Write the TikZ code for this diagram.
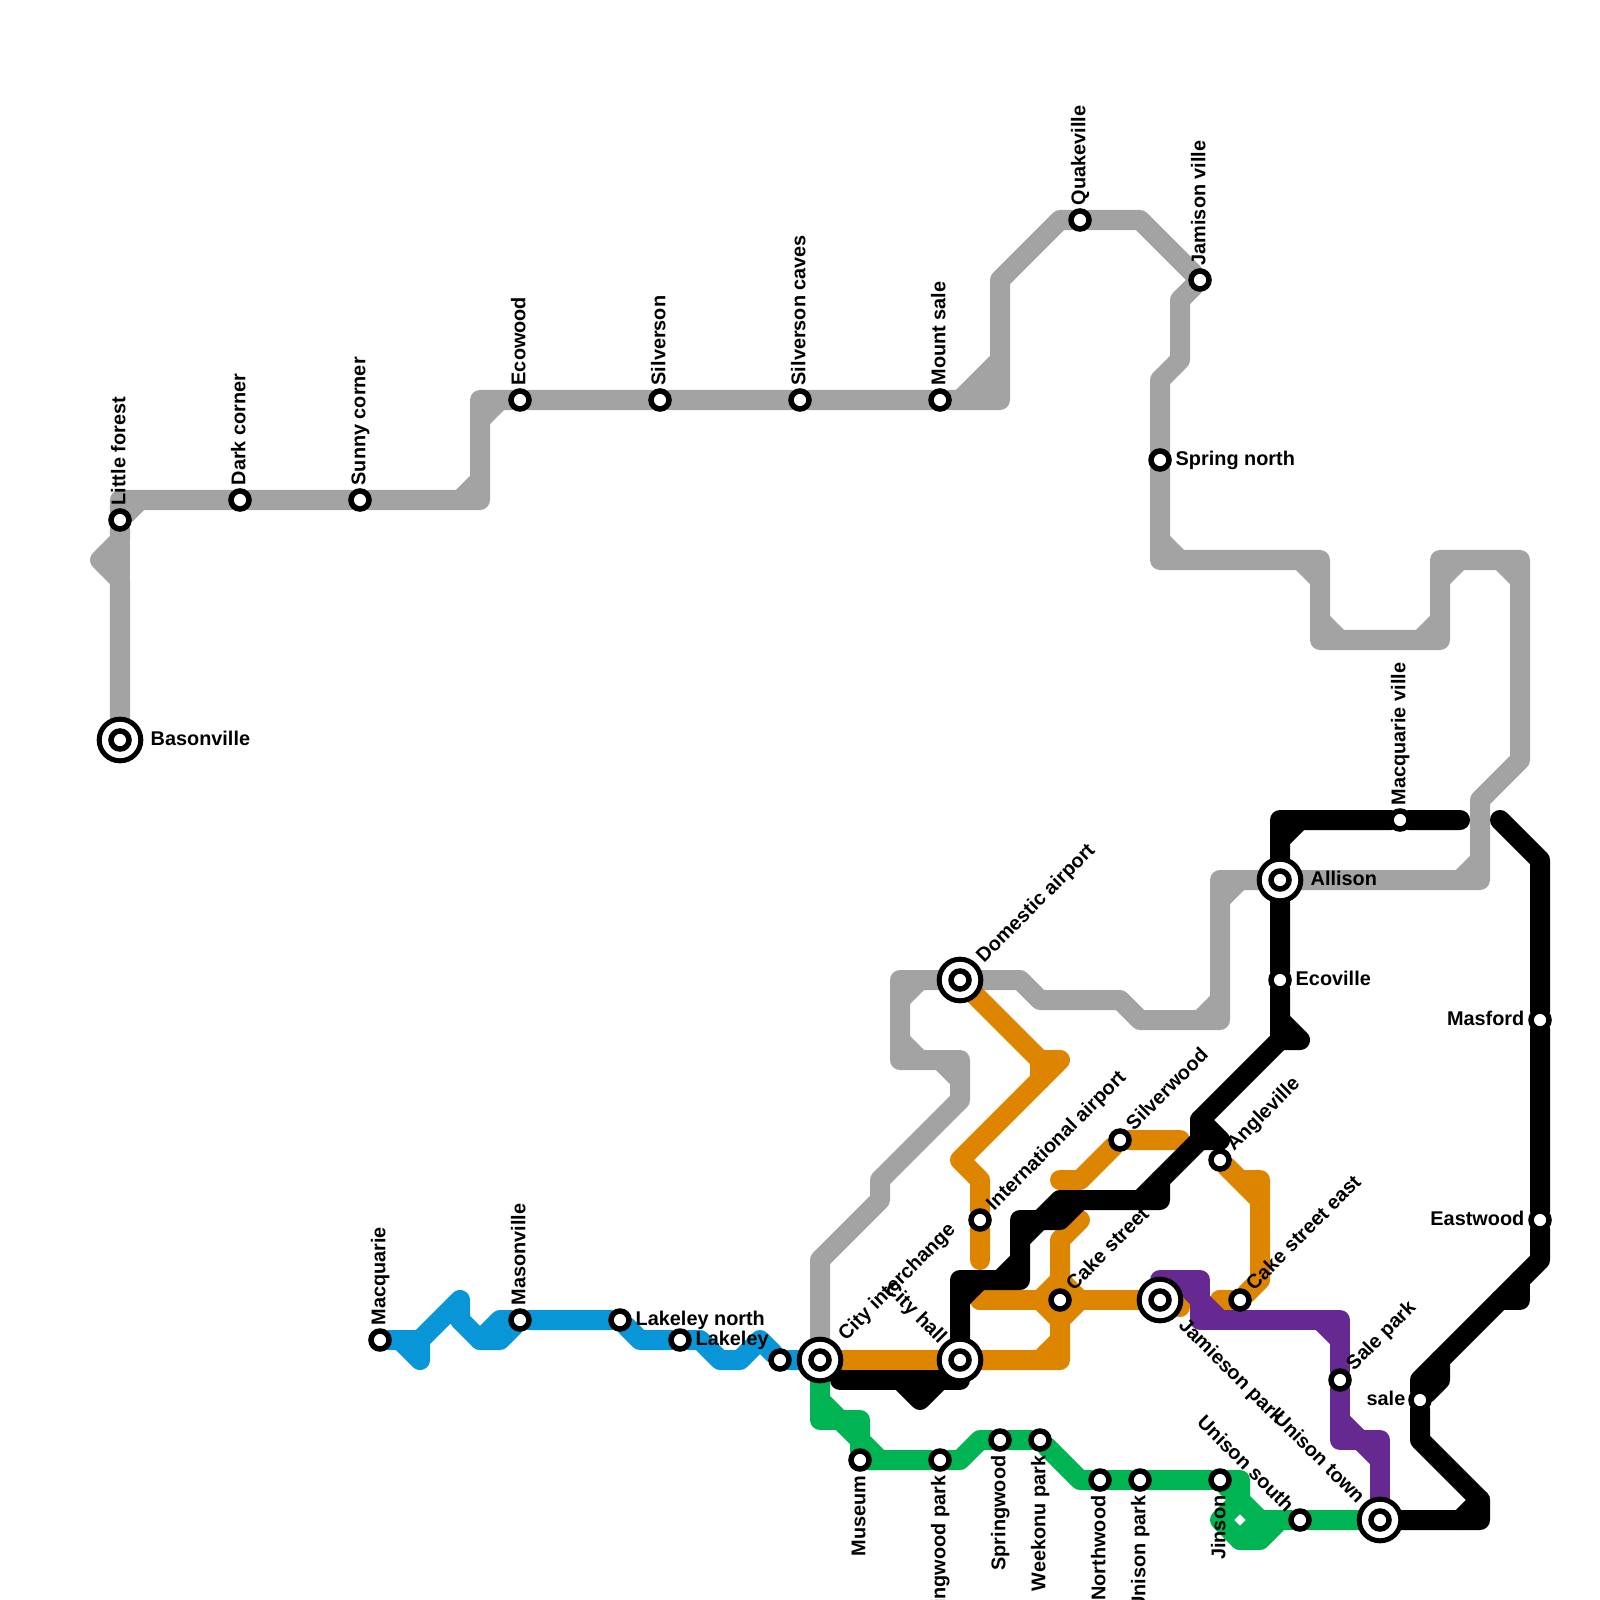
\documentclass[tikz,border=0pt]{standalone}
\usepackage{fontspec}
\setmainfont{Liberation Sans}
\usetikzlibrary{backgrounds}
\definecolor{linegrey}{RGB}{163, 163, 163}
\definecolor{lineblue}{RGB}{9, 150, 217}
\definecolor{linegreen}{RGB}{0, 179, 83}
\definecolor{lineorange}{RGB}{222, 133, 0}
\definecolor{linepurple}{RGB}{102, 41, 145}
\tikzset{
  tube/.style={line width=0.2cm, line cap=round, line join=round},
  stop/.style={circle, draw=black, fill=white, line width=0.055cm, minimum size=0.18cm, inner sep=0pt, outer sep=0pt},
  hub/.style={circle, draw=black, fill=white, line width=0.05cm, minimum size=0.416cm, inner sep=0pt, outer sep=0pt},
  lbl/.style={font=\fontsize{5.65pt}{6pt}\selectfont\bfseries, inner sep=0pt, text height=0.145cm, text depth=0.04cm},
  lblup/.style={lbl, rotate=90, anchor=west},
  lbldn/.style={lbl, rotate=90, anchor=east},
  lblne/.style={lbl, rotate=45, anchor=west},
  lblse/.style={lbl, rotate=-45, anchor=west},
  lblnw/.style={lbl, rotate=-45, anchor=east},
  lblr/.style={lbl, anchor=west},
  lbll/.style={lbl, anchor=east}
}
\begin{document}
\begin{tikzpicture}[x=0.01cm, y=-0.01cm]
  \useasboundingbox (0,0) rectangle (1600,1600);

  % Interchanges
  \node[hub] (basonville) at (120,740) {};
  \node[stop] (basonvillein) at (120,740) {};
  \node[hub] (allison) at (1280,880) {};
  \node[stop] (allisonin) at (1280,880) {};
  \node[hub] (domestic) at (960,980) {};
  \node[stop] (domesticin) at (960,980) {};
  \node[hub] (cityint) at (820,1360) {};
  \node[stop] (cityintin) at (820,1360) {};
  \node[hub] (cityhall) at (960,1360) {};
  \node[stop] (cityhallin) at (960,1360) {};
  \node[hub] (jamieson) at (1160,1300) {};
  \node[stop] (jamiesonin) at (1160,1300) {};
  \node[hub] (unisontown) at (1380,1520) {};
  \node[stop] (unisontownin) at (1380,1520) {};

  % Grey stops
  \node[stop] (littleforest) at (120,520) {};
  \node[stop] (darkcorner) at (240,500) {};
  \node[stop] (sunnycorner) at (360,500) {};
  \node[stop] (ecowood) at (520,400) {};
  \node[stop] (silverson) at (660,400) {};
  \node[stop] (silvercaves) at (800,400) {};
  \node[stop] (mountsale) at (940,400) {};
  \node[stop] (quakeville) at (1080,220) {};
  \node[stop] (jamisonville) at (1200,280) {};
  \node[stop] (springnorth) at (1160,460) {};

  % Blue stops
  \node[stop] (macquarie) at (380,1340) {};
  \node[stop] (masonville) at (520,1320) {};
  \node[stop] (lakeleyn) at (620,1320) {};
  \node[stop] (lakeley) at (680,1340) {};
  \node[stop] (blueend) at (780,1360) {};

  % Green stops
  \node[stop] (museum) at (860,1460) {};
  \node[stop] (springpark) at (940,1460) {};
  \node[stop] (springwood) at (1000,1440) {};
  \node[stop] (weekonu) at (1040,1440) {};
  \node[stop] (northwood) at (1100,1480) {};
  \node[stop] (unisonpark) at (1140,1480) {};
  \node[stop] (jinson) at (1220,1480) {};
  \node[stop] (unisonsouth) at (1300,1520) {};

  % Orange stops
  \node[stop] (intl) at (980,1220) {};
  \node[stop] (silverwood) at (1120,1140) {};
  \node[stop] (cakest) at (1060,1300) {};
  \node[stop] (angleville) at (1220,1160) {};
  \node[stop] (cakeeast) at (1240,1300) {};

  % Purple stop
  \node[stop] (salepark) at (1340,1380) {};

  % Black stops
  \node[stop] (macqville) at (1400,820) {};
  \node[stop] (ecoville) at (1280,980) {};
  \node[stop] (masford) at (1540,1020) {};
  \node[stop] (eastwood) at (1540,1220) {};
  \node[stop] (sale) at (1420,1400) {};

  % Labels
  \node[lblr] (basonvilletxt) at (150,740) {Basonville};
  \node[lblup] (littleforesttxt) at (120,506) {Little forest};
  \node[lblup] (darkcornertxt) at (240,486) {Dark corner};
  \node[lblup] (sunnycornertxt) at (360,486) {Sunny corner};
  \node[lblup] (ecowoodtxt) at (520,386) {Ecowood};
  \node[lblup] (silversontxt) at (660,386) {Silverson};
  \node[lblup] (silvercavestxt) at (800,386) {Silverson caves};
  \node[lblup] (mountsaletxt) at (940,386) {Mount sale};
  \node[lblup] (quakevilletxt) at (1080,206) {Quakeville};
  \node[lblup] (jamisonvilletxt) at (1200,266) {Jamison ville};
  \node[lblr] (springnorthtxt) at (1175,460) {Spring north};
  \node[lblup] (macqvilletxt) at (1400,806) {Macquarie ville};
  \node[lblr] (allisontxt) at (1310,880) {Allison};
  \node[lblr] (ecovilletxt) at (1295,980) {Ecoville};
  \node[lbll] (masfordtxt) at (1525,1020) {Masford};
  \node[lbll] (eastwoodtxt) at (1525,1220) {Eastwood};
  \node[lbll] (saletxt) at (1406,1400) {sale};
  \node[lblne] (domestictxt) at (980,960) {Domestic airport};
  \node[lblne] (intltxt) at (990,1208) {International airport};
  \node[lblne] (silverwoodtxt) at (1130,1128) {Silverwood};
  \node[lblne] (cakesttxt) at (1070,1288) {Cake street};
  \node[lblne] (anglevilletxt) at (1230,1148) {Angleville};
  \node[lblne] (cakeeasttxt) at (1250,1288) {Cake street east};
  \node[lblne] (saleparktxt) at (1350,1368) {Sale park};
  \node[lblne] (cityinttxt) at (842,1338) {City interchange};
  \node[lblnw] (cityhalltxt) at (943,1341) {City hall};
  \node[lblse] (jamiesontxt) at (1181,1322) {Jamieson park};
  \node[lblnw] (unisontowntxt) at (1361,1501) {Unison town};
  \node[lblnw] (unisonsouthtxt) at (1290,1510) {Unison south};
  \node[lblup] (macquarietxt) at (380,1326) {Macquarie};
  \node[lblup] (masonvilletxt) at (520,1306) {Masonville};
  \node[lblr] (lakeleyntxt) at (635,1320) {Lakeley north};
  \node[lblr] (lakeleytxt) at (695,1340) {Lakeley};
  \node[lbldn] (museumtxt) at (860,1475) {Museum};
  \node[lbldn] (springparktxt) at (940,1475) {Springwood park};
  \node[lbldn] (springwoodtxt) at (1000,1455) {Springwood};
  \node[lbldn] (weekonutxt) at (1040,1455) {Weekonu park};
  \node[lbldn] (northwoodtxt) at (1100,1495) {Northwood};
  \node[lbldn] (unisonparktxt) at (1140,1495) {Unison park};
  \node[lbldn] (jinsontxt) at (1220,1495) {Jinson};

  \begin{scope}[on background layer]
    % Grey line
    \draw[tube, linegrey] (basonville) -- (120,580) -- (100,560) -- (120,540) -- (littleforest) -- (120,500) -- (darkcorner) -- (sunnycorner) -- (480,500) -- (480,400) -- (ecowood) -- (silverson) -- (silvercaves) -- (mountsale) -- (1000,400) -- (1000,280) -- (1060,220) -- (quakeville) -- (1140,220) -- (jamisonville) -- (1180,300) -- (1180,360) -- (1160,380) -- (springnorth) -- (1160,560) -- (1320,560) -- (1320,640) -- (1440,640) -- (1440,560) -- (1520,560) -- (1520,760) -- (1480,800) -- (1480,880) -- (allison) -- (1220,880) -- (1220,1020) -- (1140,1020) -- (1120,1000) -- (1040,1000) -- (1020,980) -- (domestic) -- (900,980) -- (900,1060) -- (960,1060) -- (960,1100) -- (880,1180) -- (880,1200) -- (820,1260) -- (cityint);
    \draw[tube, linegrey] (120,540) -- (120,580);
    \draw[tube, linegrey] (littleforest) -- (140,500);
    \draw[tube, linegrey] (460,500) -- (480,480);
    \draw[tube, linegrey] (480,420) -- (500,400);
    \draw[tube, linegrey] (960,400) -- (1000,360);
    \draw[tube, linegrey] (980,400) -- (1000,380);
    \draw[tube, linegrey] (1160,540) -- (1180,560);
    \draw[tube, linegrey] (1300,560) -- (1320,580);
    \draw[tube, linegrey] (1320,620) -- (1340,640);
    \draw[tube, linegrey] (1420,640) -- (1440,620);
    \draw[tube, linegrey] (1440,580) -- (1460,560);
    \draw[tube, linegrey] (1500,560) -- (1520,580);
    \draw[tube, linegrey] (1460,880) -- (1480,860);
    \draw[tube, linegrey] (1220,900) -- (1240,880);
    \draw[tube, linegrey] (1200,1020) -- (1220,1000);
    \draw[tube, linegrey] (900,1000) -- (920,980);
    \draw[tube, linegrey] (900,1040) -- (920,1060);
    \draw[tube, linegrey] (940,1060) -- (960,1080);
    % Blue line
    \draw[tube, lineblue] (macquarie) -- (420,1340) -- (420,1360) -- (400,1340);
    \draw[tube, lineblue] (420,1340) -- (460,1300) -- (460,1320) -- (480,1340) -- (500,1340) -- (masonville) -- (lakeleyn) -- (640,1340) -- (lakeley) -- (700,1340) -- (720,1360) -- (740,1360) -- (760,1340) -- (blueend) -- (cityint);
    \draw[tube, lineblue] (480,1340) -- (500,1320) -- (masonville);
    % Green line
    \draw[tube, linegreen] (cityint) -- (820,1420) -- (860,1420) -- (museum) -- (springpark) -- (960,1460) -- (980,1440) -- (springwood) -- (weekonu) -- (1080,1480) -- (northwood) -- (unisonpark) -- (jinson) -- (1240,1480) -- (1240,1500) -- (1260,1520) -- (unisonsouth) -- (unisontown);
    \draw[tube, linegreen] (820,1400) -- (840,1420) -- (860,1440) -- (880,1460) -- (museum);
    \draw[tube, linegreen] (jinson) -- (1240,1500) -- (1220,1520) -- (1240,1540) -- (1260,1540) -- (1280,1520);
    \draw[tube, linegreen] (1240,1540) -- (1260,1520);
    % Orange line
    \draw[tube, lineorange] (domestic) -- (1040,1060) -- (1060,1060) -- (960,1160) -- (980,1180) -- (intl) -- (980,1260);
    \draw[tube, lineorange] (1040,1060) -- (1040,1080);
    \draw[tube, lineorange] (cityint) -- (cityhall) -- (1060,1360) -- (1060,1240) -- (1080,1220);
    \draw[tube, lineorange] (1040,1360) -- (1060,1340);
    \draw[tube, lineorange] (980,1300) -- (cakest) -- (jamieson.center) -- (1180,1300) -- (1180,1307);
    \draw[tube, lineorange] (980,1300) -- (1000,1280);
    \draw[tube, lineorange] (1040,1300) -- (1060,1280) -- (1080,1300) -- (1060,1320) -- (1040,1300) -- cycle;
    \draw[tube, lineorange] (1060,1180) -- (1080,1180) -- (silverwood) -- (1180,1140);
    \draw[tube, lineorange] (1220,1300) -- (cakeeast) -- (1260,1280) -- (1260,1180) -- (1240,1180) -- (angleville) -- (1260,1200);
    \draw[tube, lineorange] (1220,1300) -- (1240,1320);
    % Purple line
    \draw[tube, linepurple] (jamieson.center) -- (1160,1280) -- (1200,1280) -- (1200,1320) -- (1340,1320) -- (salepark) -- (1340,1440) -- (1380,1440) -- (unisontown);
    \draw[tube, linepurple] (jamieson) -- (1180,1280) -- (1200,1300) -- (1220,1320);
    \draw[tube, linepurple] (1320,1320) -- (1340,1340);
    \draw[tube, linepurple] (1340,1420) -- (1360,1440) -- (1380,1460);
    % Black line
    \draw[tube, black] (1460,820) -- (macqville) -- (1280,820) -- (allison) -- (ecoville) -- (1280,1040) -- (1300,1040) -- (1280,1020);
    \draw[tube, black] (1280,840) -- (1300,820);
    \draw[tube, black] (1280,1040) -- (1200,1120) -- (1200,1140) -- (1160,1180) -- (1160,1200) -- (1060,1200) -- (1040,1220) -- (1020,1220) -- (1020,1280) -- (960,1280) -- (cityhall);
    \draw[tube, black] (1200,1120) -- (1220,1140) -- (1200,1140);
    \draw[tube, black] (1140,1200) -- (1160,1180);
    \draw[tube, black] (1080,1200) -- (1060,1220) -- (1040,1220) -- (1020,1240);
    \draw[tube, black] (1000,1280) -- (1020,1260);
    \draw[tube, black] (960,1300) -- (980,1280);
    \draw[tube, black] (cityhall.center) -- (960,1380) -- (840,1380);
    \draw[tube, black] (900,1380) -- (920,1400) -- (940,1380);
    \draw[tube, black] (1500,820) -- (1540,860) -- (masford) -- (eastwood) -- (1540,1260) -- (1420,1380) -- (sale) -- (1420,1440) -- (1480,1500) -- (1480,1520) -- (unisontown);
    \draw[tube, black] (1520,1280) -- (1520,1300) -- (1500,1300);
    \draw[tube, black] (1440,1360) -- (1440,1380) -- (sale);
    \draw[tube, black] (1460,1520) -- (1480,1500);
  \end{scope}
\end{tikzpicture}
\end{document}
